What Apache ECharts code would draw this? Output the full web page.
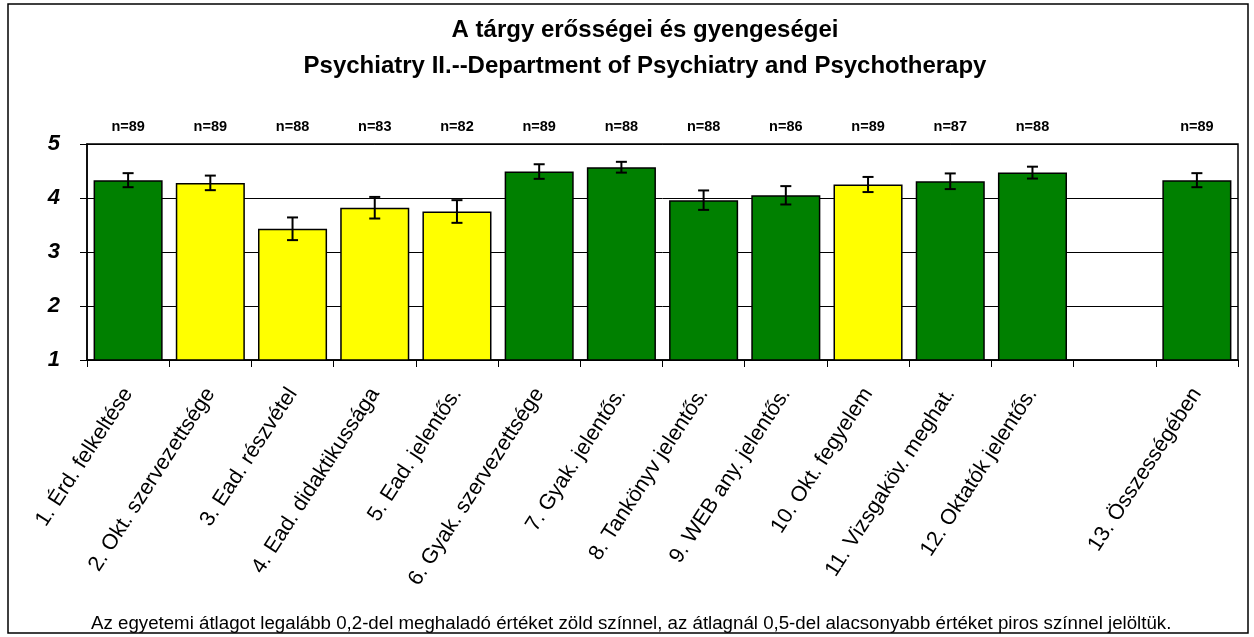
<!DOCTYPE html>
<html>
<head>
<meta charset="utf-8">
<script src="https://cdn.jsdelivr.net/npm/echarts@6/dist/echarts.min.js"></script>
<style>
    html, body { margin: 0; padding: 0; background: #fff; }
    #chart { width: 1254px; height: 637px; }
</style>
</head>
<body>
<div id="chart"></div>
<script>
    // kategóriák (a 13. előtt egy üres hely van)
    const categories = ['1. Érd. felkeltése', '2. Okt. szervezettsége', '3. Ead. részvétel', '4. Ead. didaktikussága',
        '5. Ead. jelentős.', '6. Gyak. szervezettsége', '7. Gyak. jelentős.', '8. Tankönyv jelentős.',
        '9. WEB any. jelentős.', '10. Okt. fegyelem', '11. Vizsgaköv. meghat.', '12. Oktatók jelentős.', '',
        '13. Összességében'];
    const means = [4.33, 4.28, 3.43, 3.82, 3.75, 4.49, 4.57, 3.96, 4.05, 4.25, 4.31, 4.47, null, 4.33];
    const errors = [0.13, 0.135, 0.21, 0.2, 0.21, 0.135, 0.1, 0.18, 0.17, 0.14, 0.145, 0.11, null, 0.13];
    const nLabels = ['n=89', 'n=89', 'n=88', 'n=83', 'n=82', 'n=89', 'n=88', 'n=88', 'n=86', 'n=89', 'n=87', 'n=88', '', 'n=89'];
    // g = zöld (átlag felett), y = sárga
    const ratings = ['g', 'y', 'y', 'y', 'y', 'g', 'g', 'g', 'g', 'y', 'g', 'g', '', 'g'];
    const yTicks = [1, 2, 3, 4, 5];

    const fillColors = { g: '#008000', y: '#ffff00' };

    const chart = echarts.init(document.getElementById('chart'));

    const option = {
        animation: false,
        title: [
            {
                text: 'A tárgy erősségei és gyengeségei\nPsychiatry II.--Department of Psychiatry and Psychotherapy',
                left: 640,
                textAlign: 'center',
                top: 7,
                textStyle: {
                    fontFamily: 'Liberation Sans',
                    fontSize: 24,
                    fontWeight: 'bold',
                    color: '#000',
                    lineHeight: 36
                }
            },
            {
                text: 'Az egyetemi átlagot legalább 0,2-del meghaladó értéket zöld színnel, az átlagnál 0,5-del alacsonyabb értéket piros színnel jelöltük.',
                left: 86,
                top: 609,
                textStyle: {
                    fontFamily: 'Liberation Sans',
                    fontSize: 18.7,
                    fontWeight: 'normal',
                    color: '#000'
                }
            }
        ],
        graphic: [
            {
                type: 'rect',
                shape: { x: 8, y: 4, width: 1240, height: 629 },
                style: { fill: 'none', stroke: '#000', lineWidth: 1.5 },
                silent: true
            }
        ],
        grid: {
            left: 87,
            right: 16,
            top: 144,
            bottom: 277,
            show: true,
            borderColor: '#000',
            borderWidth: 1.5
        },
        xAxis: [
            {
                type: 'category',
                data: categories,
                position: 'bottom',
                axisLine: { lineStyle: { color: '#000', width: 1.5 } },
                axisTick: { show: true, length: 7, lineStyle: { color: '#000' } },
                axisLabel: {
                    interval: 0,
                    rotate: 57,
                    margin: 30,
                    color: '#000',
                    fontFamily: 'Liberation Sans',
                    fontSize: 21.5
                }
            },
            {
                type: 'category',
                data: nLabels,
                position: 'top',
                axisLine: { show: false },
                axisTick: { show: false },
                axisLabel: {
                    interval: 0,
                    margin: 10,
                    color: '#000',
                    fontFamily: 'Liberation Sans',
                    fontSize: 14.5,
                    fontWeight: 'bold'
                }
            }
        ],
        yAxis: {
            type: 'value',
            min: yTicks[0],
            max: yTicks[yTicks.length - 1],
            interval: 1,
            axisLine: { show: true, lineStyle: { color: '#000', width: 1.5 } },
            axisTick: { show: true, length: 7, lineStyle: { color: '#000' } },
            splitLine: { lineStyle: { color: '#000', width: 1 } },
            axisLabel: {
                margin: 27,
                color: '#000',
                fontFamily: 'Liberation Sans',
                fontSize: 22,
                fontWeight: 'bold',
                fontStyle: 'italic'
            }
        },
        series: [
            {
                type: 'bar',
                barCategoryGap: '16%',
                data: means.map((v, i) => ({
                    value: v,
                    itemStyle: {
                        color: fillColors[ratings[i]] || 'transparent',
                        borderColor: '#000',
                        borderWidth: 1.5
                    }
                }))
            },
            {
                // hibasávok
                type: 'custom',
                data: means.map((v, i) => [i, v == null ? null : v - errors[i], v == null ? null : v + errors[i]]),
                renderItem: function (params, api) {
                    const low = api.value(1);
                    const high = api.value(2);
                    if (low == null || isNaN(low)) {
                        return;
                    }
                    const p1 = api.coord([api.value(0), high]);
                    const p2 = api.coord([api.value(0), low]);
                    const half = 5.5;
                    const style = { stroke: '#000', lineWidth: 2 };
                    return {
                        type: 'group',
                        children: [
                            { type: 'line', shape: { x1: p1[0], y1: p1[1], x2: p2[0], y2: p2[1] }, style },
                            { type: 'line', shape: { x1: p1[0] - half, y1: p1[1], x2: p1[0] + half, y2: p1[1] }, style },
                            { type: 'line', shape: { x1: p2[0] - half, y1: p2[1], x2: p2[0] + half, y2: p2[1] }, style }
                        ]
                    };
                },
                z: 10
            }
        ]
    };

    chart.setOption(option);
    window.addEventListener('resize', () => chart.resize());
</script>
</body>
</html>
